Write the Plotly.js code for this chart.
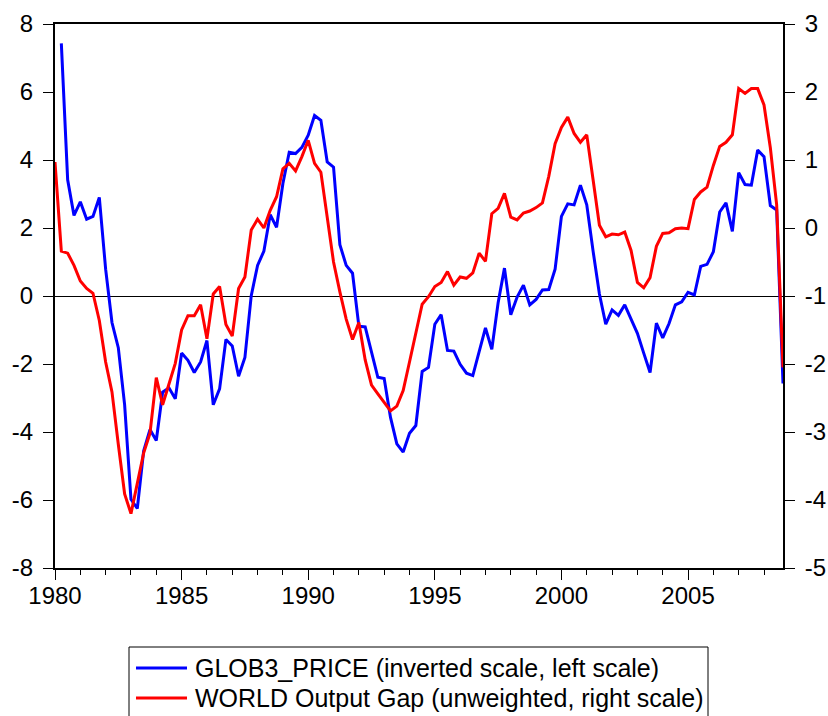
<!DOCTYPE html>
<html>
<head>
<meta charset="utf-8">
<script src="https://cdn.plot.ly/plotly-3.0.1.min.js"></script>
<style>
  html, body { margin: 0; padding: 0; background: #fff; }
  #chart { width: 828px; height: 716px; }
</style>
</head>
<body>
<div id="chart"></div>
<script>
// Quarterly observations 1980Q1 .. 2008Q4
const startYear = 1980;
const nQuarters = 116;

// GLOB3_PRICE (left scale); first quarter missing
const glob3Price = [
  null, 7.43, 3.42, 2.37, 2.77, 2.26, 2.34, 2.90, 0.79, -0.78,
  -1.52, -3.20, -5.98, -6.25, -4.56, -3.93, -4.25, -2.83, -2.70, -3.02,
  -1.68, -1.89, -2.25, -1.94, -1.31, -3.20, -2.73, -1.28, -1.47, -2.36,
  -1.81, 0.01, 0.90, 1.32, 2.39, 2.02, 3.31, 4.23, 4.19, 4.37,
  4.73, 5.31, 5.17, 3.94, 3.79, 1.51, 0.90, 0.67, -0.89, -0.91,
  -1.68, -2.39, -2.43, -3.57, -4.35, -4.59, -4.04, -3.81, -2.22, -2.10,
  -0.83, -0.55, -1.60, -1.62, -2.01, -2.27, -2.34, -1.68, -0.94, -1.57,
  -0.20, 0.82, -0.55, -0.03, 0.32, -0.26, -0.10, 0.18, 0.19, 0.79,
  2.34, 2.71, 2.68, 3.26, 2.68, 1.32, 0.06, -0.83, -0.41, -0.57,
  -0.26, -0.68, -1.10, -1.68, -2.25, -0.80, -1.23, -0.81, -0.26, -0.17,
  0.11, 0.03, 0.87, 0.93, 1.30, 2.47, 2.74, 1.90, 3.63, 3.28,
  3.26, 4.29, 4.10, 2.66, 2.53, -2.57
];

// WORLD Output Gap (right scale)
const worldGap = [
  0.97, -0.34, -0.37, -0.55, -0.78, -0.89, -0.96, -1.36, -1.97, -2.41,
  -3.18, -3.91, -4.20, -3.75, -3.31, -3.02, -2.20, -2.60, -2.30, -1.99,
  -1.50, -1.29, -1.29, -1.13, -1.63, -0.97, -0.86, -1.42, -1.59, -0.89,
  -0.72, -0.03, 0.13, 0.00, 0.26, 0.46, 0.87, 0.95, 0.84, 1.05,
  1.29, 0.95, 0.82, 0.13, -0.50, -0.94, -1.34, -1.64, -1.39, -1.94,
  -2.31, -2.44, -2.57, -2.69, -2.62, -2.39, -1.97, -1.55, -1.12, -1.01,
  -0.86, -0.80, -0.64, -0.84, -0.72, -0.74, -0.66, -0.37, -0.49, 0.21,
  0.29, 0.51, 0.16, 0.12, 0.22, 0.25, 0.30, 0.37, 0.76, 1.24,
  1.48, 1.63, 1.39, 1.26, 1.37, 0.71, 0.04, -0.13, -0.09, -0.10,
  -0.06, -0.33, -0.80, -0.88, -0.73, -0.27, -0.08, -0.07, -0.01, 0.00,
  -0.01, 0.42, 0.53, 0.60, 0.92, 1.20, 1.26, 1.37, 2.05, 1.98,
  2.05, 2.05, 1.81, 1.18, 0.34, -2.05
];

const xTickVals = [1980, 1985, 1990, 1995, 2000, 2005];
const xTickText = ["1980", "1985", "1990", "1995", "2000", "2005"];
const leftTickVals = [-8, -6, -4, -2, 0, 2, 4, 6, 8];
const leftTickText = ["-8", "-6", "-4", "-2", "0", "2", "4", "6", "8"];
const rightTickVals = [-5, -4, -3, -2, -1, 0, 1, 2, 3];
const rightTickText = ["-5", "-4", "-3", "-2", "-1", "0", "1", "2", "3"];

const seriesNames = [
  "GLOB3_PRICE (inverted scale, left scale)",
  "WORLD Output Gap (unweighted, right scale)"
];
const seriesColors = ["#0000ff", "#ff0000"];

const quarters = [];
for (let i = 0; i < nQuarters; i++) quarters.push(startYear + i / 4);

const font = "Liberation Sans, Arial, Helvetica, sans-serif";

const traces = [
  {
    x: quarters, y: glob3Price, type: "scatter", mode: "lines",
    name: seriesNames[0], yaxis: "y",
    line: { color: seriesColors[0], width: 3 }
  },
  {
    x: quarters, y: worldGap, type: "scatter", mode: "lines",
    name: seriesNames[1], yaxis: "y2",
    line: { color: seriesColors[1], width: 3 }
  }
];

// Legend drawn in paper coordinates (plot area: x 55..783, y 24..568 px)
const plotL = 55, plotW = 728, plotB = 568, plotH = 544;
const px = v => (v - plotL) / plotW;
const py = v => (plotB - v) / plotH;
const legendRowsY = [667, 697];

const shapes = [
  { type: "rect", xref: "paper", yref: "paper",
    x0: px(129), x1: px(708), y0: py(647), y1: py(724),
    line: { color: "#000", width: 1 }, fillcolor: "rgba(0,0,0,0)" }
];
const annotations = [];
seriesNames.forEach((name, k) => {
  shapes.push({ type: "line", xref: "paper", yref: "paper",
    x0: px(136), x1: px(187), y0: py(legendRowsY[k] + 1), y1: py(legendRowsY[k] + 1),
    line: { color: seriesColors[k], width: 3 } });
  annotations.push({ xref: "paper", yref: "paper", x: px(193), y: py(legendRowsY[k] + 1),
    xanchor: "left", yanchor: "middle", showarrow: false, text: name,
    font: { family: font, size: 25, color: "#000" } });
});

const layout = {
  width: 828, height: 716,
  margin: { l: 55, r: 45, t: 24, b: 148, pad: 0, autoexpand: false },
  paper_bgcolor: "#ffffff", plot_bgcolor: "#ffffff",
  font: { family: font, size: 24, color: "#000" },
  showlegend: false,
  shapes: shapes,
  annotations: annotations,
  xaxis: {
    range: [1980, 2008.75], type: "linear",
    tickvals: xTickVals, ticktext: xTickText,
    ticks: "outside", ticklen: 10, tickwidth: 1, tickcolor: "#000",
    ticklabelstandoff: -5,
    minor: { dtick: 1, tick0: 1980, ticks: "outside", ticklen: 5, tickwidth: 1, tickcolor: "#000", showgrid: false },
    showline: true, linecolor: "#000", linewidth: 2, mirror: true,
    showgrid: false, zeroline: false,
    tickfont: { family: font, size: 24, color: "#000" }
  },
  yaxis: {
    range: [-8, 8],
    tickvals: leftTickVals, ticktext: leftTickText,
    ticks: "outside", ticklen: 10, tickwidth: 1, tickcolor: "#000",
    ticklabelstandoff: 5,
    showline: true, linecolor: "#000", linewidth: 2,
    showgrid: false,
    zeroline: true, zerolinecolor: "#000", zerolinewidth: 1,
    tickfont: { family: font, size: 24, color: "#000" }
  },
  yaxis2: {
    range: [-5, 3], overlaying: "y", side: "right",
    tickvals: rightTickVals, ticktext: rightTickText,
    ticks: "outside", ticklen: 10, tickwidth: 1, tickcolor: "#000",
    ticklabelstandoff: 5,
    showline: true, linecolor: "#000", linewidth: 2,
    showgrid: false, zeroline: false,
    tickfont: { family: font, size: 24, color: "#000" }
  }
};

Plotly.newPlot("chart", traces, layout, { staticPlot: true, displayModeBar: false });
</script>
</body>
</html>
